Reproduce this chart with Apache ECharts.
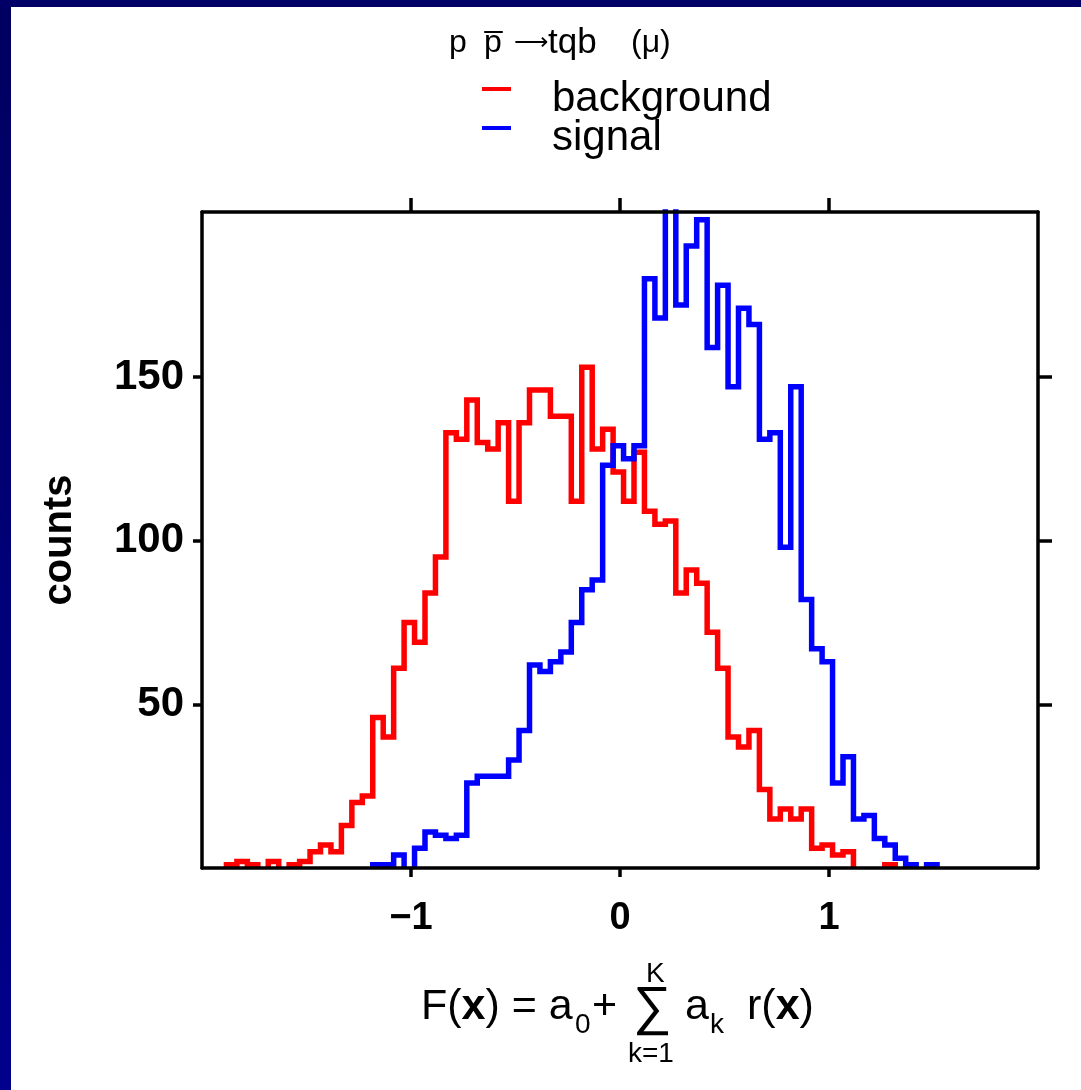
<!DOCTYPE html>
<html>
<head>
<meta charset="utf-8">
<script src="https://cdn.jsdelivr.net/npm/echarts@6/dist/echarts.min.js"></script>
<style>
html,body{margin:0;padding:0;background:#fff;}
#chart{width:1081px;height:1090px;}
</style>
</head>
<body>
<div id="chart"></div>
<script>
// ---- data ----
const binStart = -1.883;      // left edge of first bin
const binWidth = 0.05;
const backgroundFirstBin = 0;
const backgroundCounts = [1,2,1,0,2,0,1,2,5,7,5,13,20,22,46,40,61,75,69,84,95,133,131,143,130,128,136,112,136,146,146,138,138,112,153,128,134,121,112,127,109,105,106,84,91,87,72,61,40,37,42,24,15,18,15,18,6,7,4,5,0,0,0,1];
const signalFirstBin = 14;
const signalCounts = [1,1,4,0,6,11,10,9,10,26,28,28,28,33,42,62,60,63,66,75,85,88,123,129,125,129,180,168,210,172,190,198,159,178,147,171,166,131,133,98,147,82,67,63,26,34,15,16,9,7,3,1,0,1];
const xTickValues = [-1, 0, 1];
const yTickValues = [50, 100, 150];
const seriesNames = ['background', 'signal'];
const headerParts = ['p', 'p\u0305', '\u27f6', 'tqb', '(\u03bc)'];

// step outline; empty bins leave a gap along the baseline
function stepPoints(firstBin, counts) {
  const pts = [];
  const e0 = binStart + firstBin * binWidth;
  pts.push([e0, 0]);
  counts.forEach(function (c, i) {
    const a = binStart + (firstBin + i) * binWidth;
    const b = a + binWidth;
    if (c === 0) {
      pts.push([a, 0]);
      pts.push(null);
      pts.push([b, 0]);
    } else {
      pts.push([a, c]);
      pts.push([b, c]);
    }
  });
  pts.push([binStart + (firstBin + counts.length) * binWidth, 0]);
  return pts;
}

const chart = echarts.init(document.getElementById('chart'), null, {renderer: 'canvas'});
const FONT = 'Liberation Sans, Arial, sans-serif';
const minusFmt = function (v) { return v < 0 ? '\u2212' + Math.abs(v) : String(v); };
const headerStyle = [
  {left: 449, top: 27, font: '32px ' + FONT},
  {left: 484, top: 27, font: '32px ' + FONT},
  {left: 514, top: 31, font: '24px ' + FONT},
  {left: 548, top: 26, font: '35px ' + FONT},
  {left: 631, top: 27, font: '32px ' + FONT}
];
// dash at top of a taller icon box so that it sits above the text centre
const legendIcon = 'path://M0,0H29V4H0Z M0,23.9H0.1V24H0Z';

const option = {
  backgroundColor: '#ffffff',
  animation: false,
  grid: {left: 202, top: 212, width: 836, height: 656, containLabel: false},
  legend: {
    orient: 'vertical', left: 477, top: 73, icon: legendIcon,
    itemWidth: 29, itemHeight: 24, itemGap: -3,
    data: seriesNames,
    textStyle: {fontFamily: FONT, fontSize: 42, color: '#000', lineHeight: 40, padding: [0, 0, 0, 36]}
  },
  xAxis: [{
    type: 'value', position: 'bottom', min: -2, max: 2, z: 5,
    axisLine: {show: true, lineStyle: {color: '#000', width: 3.5}},
    axisTick: {show: true, customValues: xTickValues, length: 9, lineStyle: {color: '#000', width: 3.5}},
    axisLabel: {show: true, customValues: xTickValues, formatter: minusFmt, margin: 32,
      fontFamily: FONT, fontWeight: 'bold', fontSize: 38, color: '#000'},
    splitLine: {show: false}
  }, {
    type: 'value', position: 'top', min: -2, max: 2, z: 5,
    axisLine: {show: true, onZero: false, lineStyle: {color: '#000', width: 3.5}},
    axisTick: {show: true, customValues: xTickValues, length: 14, lineStyle: {color: '#000', width: 3.5}},
    axisLabel: {show: false},
    splitLine: {show: false}
  }],
  yAxis: [{
    type: 'value', position: 'left', min: 0, max: 200.4, z: 5,
    name: 'counts', nameLocation: 'middle', nameRotate: 90, nameGap: 122,
    nameTextStyle: {fontFamily: FONT, fontWeight: 'bold', fontSize: 40, color: '#000'},
    axisLine: {show: true, onZero: false, lineStyle: {color: '#000', width: 3.5}},
    axisTick: {show: true, customValues: yTickValues, length: 9, lineStyle: {color: '#000', width: 3.5}},
    axisLabel: {show: true, customValues: yTickValues, margin: 18,
      fontFamily: FONT, fontWeight: 'bold', fontSize: 42, color: '#000'},
    splitLine: {show: false}
  }, {
    type: 'value', position: 'right', min: 0, max: 200.4, z: 5,
    axisLine: {show: true, onZero: false, lineStyle: {color: '#000', width: 3.5}},
    axisTick: {show: true, customValues: yTickValues, length: 14, lineStyle: {color: '#000', width: 3.5}},
    axisLabel: {show: false},
    splitLine: {show: false}
  }],
  series: [{
    name: seriesNames[0], type: 'line', color: '#ff0000', showSymbol: false, clip: true, z: 2,
    connectNulls: false,
    lineStyle: {color: '#ff0000', width: 5.5, join: 'miter', cap: 'butt'},
    data: stepPoints(backgroundFirstBin, backgroundCounts)
  }, {
    name: seriesNames[1], type: 'line', color: '#0000ff', showSymbol: false, clip: true, z: 3,
    connectNulls: false,
    lineStyle: {color: '#0000ff', width: 5.5, join: 'miter', cap: 'butt'},
    data: stepPoints(signalFirstBin, signalCounts)
  }],
  graphic: [
    {type: 'rect', left: 0, top: 0, z: 100, shape: {width: 11, height: 1090},
      style: {fill: new echarts.graphic.LinearGradient(0, 0, 0, 1, [{offset: 0, color: '#000060'}, {offset: 1, color: '#00008c'}])}},
    {type: 'rect', left: 0, top: 0, z: 100, shape: {width: 1081, height: 7}, style: {fill: '#000066'}}
  ].concat(headerParts.map(function (t, i) {
    return {type: 'text', left: headerStyle[i].left, top: headerStyle[i].top,
      style: {text: t, font: headerStyle[i].font, fill: '#000'}};
  })).concat([
    // x-axis formula
    {type: 'text', left: 421, top: 986, style: {
      text: '{n|F(}{b|x}{n|) = a}', rich: {n: {font: '43px ' + FONT, fill: '#000'}, b: {font: 'bold 43px ' + FONT, fill: '#000'}}}},
    {type: 'text', left: 575, top: 1011, style: {text: '0', font: '28px ' + FONT, fill: '#000'}},
    {type: 'text', left: 592, top: 986, style: {text: '+', font: '43px ' + FONT, fill: '#000'}},
    {type: 'text', left: 633, top: 982, style: {text: '\u2211', font: '54px ' + FONT, fill: '#000'}},
    {type: 'text', left: 646, top: 960, style: {text: 'K', font: '28px ' + FONT, fill: '#000'}},
    {type: 'text', left: 628, top: 1040, style: {text: 'k=1', font: '28px ' + FONT, fill: '#000'}},
    {type: 'text', left: 685, top: 986, style: {text: 'a', font: '43px ' + FONT, fill: '#000'}},
    {type: 'text', left: 710, top: 1011, style: {text: 'k', font: '28px ' + FONT, fill: '#000'}},
    {type: 'text', left: 747, top: 986, style: {
      text: '{n|r(}{b|x}{n|)}', rich: {n: {font: '43px ' + FONT, fill: '#000'}, b: {font: 'bold 43px ' + FONT, fill: '#000'}}}}
  ])
};
chart.setOption(option);
</script>
</body>
</html>
